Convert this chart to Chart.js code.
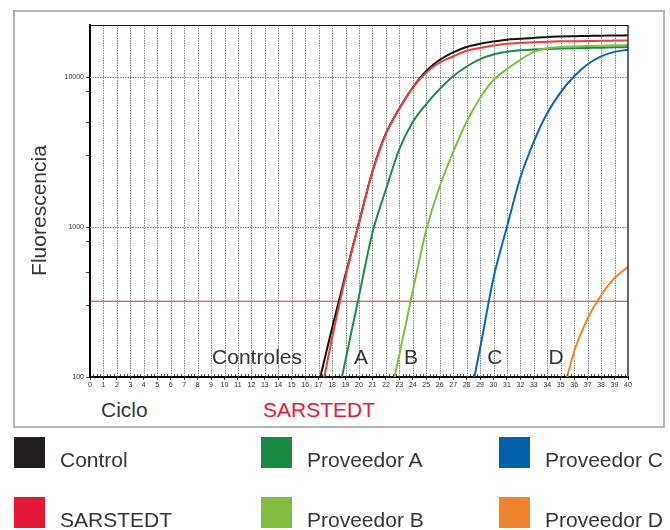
<!DOCTYPE html>
<html>
<head>
<meta charset="utf-8">
<script src="https://cdn.jsdelivr.net/npm/chart.js@4.4.1/dist/chart.umd.min.js"></script>
<style>
  html, body { margin:0; padding:0; background:#fff; }
  body { width:670px; height:530px; position:relative; overflow:hidden;
         font-family:"Liberation Sans", Arial, Helvetica, sans-serif; color:#363636; }
  #frame { position:absolute; left:13px; top:10px; width:648px; height:414px; border:2px solid #b4b4b4; }
  #wrap { position:absolute; left:0; top:0; width:670px; height:397px; }
  .t { position:absolute; font-size:21px; line-height:21px; white-space:nowrap; }
  .sq { position:absolute; width:31px; height:31px; }
  #ytitle { position:absolute; width:200px; height:21px; line-height:21px; font-size:21px; text-align:center;
            left:-62.3px; top:200px; transform:rotate(-90deg); white-space:nowrap; }
</style>
</head>
<body>
<div id="frame"></div>
<div id="wrap"><canvas id="c" width="670" height="397"></canvas></div>
<div id="ytitle">Fluorescencia</div>
<div class="t" style="left:101px; top:399px;">Ciclo</div>
<div class="t" style="left:263px; top:399px; color:#e8193c;">SARSTEDT</div>
<div id="legend"></div>
<script>
// ---------- data ----------
const cycles = [0,1,2,3,4,5,6,7,8,9,10,11,12,13,14,15,16,17,18,19,20,21,22,23,24,25,26,27,28,29,30,31,32,33,34,35,36,37,38,39,40];
const seriesNames = ['Control','SARSTEDT','Proveedor A','Proveedor B','Proveedor C','Proveedor D'];
const controlVals = [null,null,null,null,null,null,null,null,null,null,null,null,null,null,null,null,null,
  90,212,483,1064,2344,4207,6166,8511,10960,13030,14620,15850,16670,17260,17740,17990,18240,18490,18620,18710,18790,18880,18920,18970];
const sarstedtVals = [null,null,null,null,null,null,null,null,null,null,null,null,null,null,null,null,null,
  65,182,466,1072,2344,4169,6166,8511,10715,12503,13709,14960,15600,16220,16670,16900,17060,17220,17300,17340,17380,17460,17500,17540];
const provAVals = [null,null,null,null,null,null,null,null,null,null,null,null,null,null,null,null,null,null,
  49,130,347,912,1778,3311,5012,6607,8318,10120,11750,13180,14130,14720,15070,15240,15380,15490,15560,15630,15700,15780,15850];
const provBVals = [null,null,null,null,null,null,null,null,null,null,null,null,null,null,null,null,null,null,null,null,null,null,
  55,141,374,955,1862,3162,5012,7244,9550,11300,13030,14720,15560,15850,16000,16110,16180,16260,16330];
const provCVals = [null,null,null,null,null,null,null,null,null,null,null,null,null,null,null,null,null,null,null,null,null,null,null,null,null,null,null,null,
  55,155,457,1000,2138,3715,5754,7943,10120,12160,13740,14720,15200];
const provDVals = [null,null,null,null,null,null,null,null,null,null,null,null,null,null,null,null,null,null,null,null,null,null,null,null,null,null,null,null,null,null,null,null,null,null,null,
  68,148,245,351,457,541];
const thresholdValue = 320;
const yTickValues = [100,300,500,800,1000,3000,5000,8000,10000];
const yTickLabels = {100:'100',1000:'1000',10000:'10000'};
const yGridValues = [1000,10000];
const curveLabels = ['Controles','A','B','C','D'];

// ---------- styles / positions (not data) ----------
const lineColors = ['#111111','#ef3b3b','#1f8b47','#7cc143','#0d66b3','#f5832a'];
const legendColors = ['#231f20','#e31837','#1b8a43','#80bd41','#0063a9','#f0832e'];
const curveLabelPos = [{x:15.76,y:122,align:'right'},{x:20.15,y:122,align:'center'},{x:23.87,y:122,align:'center'},{x:30.09,y:122,align:'center'},{x:34.65,y:122,align:'center'}];
const minorPerCycle = 4;

const toPts = vals => cycles.map((c,i)=>({x:c,y:vals[i]})).filter(p=>p.y!==null);
const allVals = [controlVals,sarstedtVals,provAVals,provBVals,provCVals,provDVals];

// drawing order: first dataset is on top
const drawOrder = [5,4,3,1,2,0];
const datasets = drawOrder.map(i=>({
  label: seriesNames[i], data: toPts(allVals[i]), borderColor: lineColors[i],
  borderWidth: 2, pointRadius: 0, fill:false, cubicInterpolationMode:'monotone'
}));
datasets.push({label:'umbral', data:[{x:cycles[0],y:thresholdValue},{x:cycles[cycles.length-1],y:thresholdValue}],
  borderColor:'#c8352f', borderWidth:1, pointRadius:0, fill:false});

const gridPlugin = {
  id:'gridPlugin',
  beforeDatasetsDraw(chart){
    const {ctx, chartArea:a} = chart;
    const xs = chart.scales.x, ys = chart.scales.y;
    ctx.save();
    ctx.strokeStyle = '#858585'; ctx.lineWidth = 1;
    ctx.setLineDash([1.5,1]);
    ctx.beginPath();
    cycles.forEach(c => {
      if (c === cycles[0] || c === cycles[cycles.length-1]) return;
      const px = Math.round(xs.getPixelForValue(c)) + 0.5;
      ctx.moveTo(px, a.top); ctx.lineTo(px, a.bottom);
    });
    yGridValues.forEach(v => {
      const py = Math.round(ys.getPixelForValue(v)) + 0.5;
      ctx.moveTo(a.left, py); ctx.lineTo(a.right, py);
    });
    ctx.stroke();
    ctx.restore();
  },
  afterDraw(chart){
    const {ctx, chartArea:a} = chart;
    const xs = chart.scales.x, ys = chart.scales.y;
    ctx.save();
    ctx.strokeStyle = '#111'; ctx.lineWidth = 1;
    ctx.beginPath();
    ctx.moveTo(a.left, a.top+0.5); ctx.lineTo(a.right, a.top+0.5);
    ctx.stroke();
    ctx.strokeStyle = '#333'; ctx.lineWidth = 1.5;
    ctx.beginPath();
    ctx.moveTo(a.right, a.top); ctx.lineTo(a.right, a.bottom);
    ctx.stroke();
    // minor ticks on the x axis (inside)
    ctx.strokeStyle = '#555'; ctx.lineWidth = 1;
    ctx.beginPath();
    for (let k = 0; k < cycles.length-1; k++) {
      for (let m = 1; m < minorPerCycle; m++) {
        const px = Math.round(xs.getPixelForValue(cycles[k] + m/minorPerCycle)) + 0.5;
        ctx.moveTo(px, a.bottom-1); ctx.lineTo(px, a.bottom-3);
      }
    }
    ctx.stroke();
    // curve labels
    ctx.fillStyle = '#363636';
    ctx.font = '21px "Liberation Sans", Arial, sans-serif';
    ctx.textBaseline = 'alphabetic';
    curveLabels.forEach((t,i)=>{
      const p = curveLabelPos[i];
      ctx.textAlign = p.align;
      ctx.fillText(t, xs.getPixelForValue(p.x), ys.getPixelForValue(p.y));
    });
    ctx.restore();
  }
};

new Chart(document.getElementById('c'), {
  type:'line',
  data:{datasets},
  options:{
    responsive:false, animation:false, devicePixelRatio:1,
    layout:{padding:{left:0,right:42,top:25,bottom:0}},
    plugins:{legend:{display:false}, tooltip:{enabled:false}},
    scales:{
      x:{
        type:'linear', min:0, max:40,
        afterBuildTicks: s => { s.ticks = cycles.map(v=>({value:v})); },
        afterFit: s => { s.height = 20; },
        ticks:{ autoSkip:false, maxRotation:0, minRotation:0, padding:1,
                font:{size:7, family:'"Liberation Sans", Arial, sans-serif'}, color:'#333',
                callback: v => String(v) },
        grid:{ drawOnChartArea:false, color:'#444', tickColor:'#444', tickLength:3, lineWidth:1 },
        border:{ color:'#000', width:2 }
      },
      y:{
        type:'logarithmic', min:100, max:22230,
        afterBuildTicks: s => { s.ticks = yTickValues.map(v=>({value:v})); },
        afterFit: s => { s.width = 90; },
        ticks:{ autoSkip:false, padding:2,
                font:{size:7, family:'"Liberation Sans", Arial, sans-serif'}, color:'#333',
                callback: v => yTickLabels[v] || '' },
        grid:{ drawOnChartArea:false, color:'#444', tickColor:'#444', tickLength:4, lineWidth:1 },
        border:{ color:'#000', width:2 }
      }
    }
  },
  plugins:[gridPlugin]
});

// ---------- HTML legend ----------
const legendPos = [
  {sx:14, sy:437, tx:60, ty:449}, {sx:14, sy:497, tx:60, ty:509},
  {sx:261, sy:437, tx:307, ty:449}, {sx:261, sy:497, tx:307, ty:509},
  {sx:499, sy:437, tx:545, ty:449}, {sx:499, sy:497, tx:545, ty:509}
];
const lg = document.getElementById('legend');
seriesNames.forEach((n,i)=>{
  const p = legendPos[i];
  const sq = document.createElement('div');
  sq.className='sq'; sq.style.left=p.sx+'px'; sq.style.top=p.sy+'px'; sq.style.background=legendColors[i];
  lg.appendChild(sq);
  const t = document.createElement('div');
  t.className='t'; t.style.left=p.tx+'px'; t.style.top=p.ty+'px'; t.textContent=n;
  lg.appendChild(t);
});
</script>
</body>
</html>
